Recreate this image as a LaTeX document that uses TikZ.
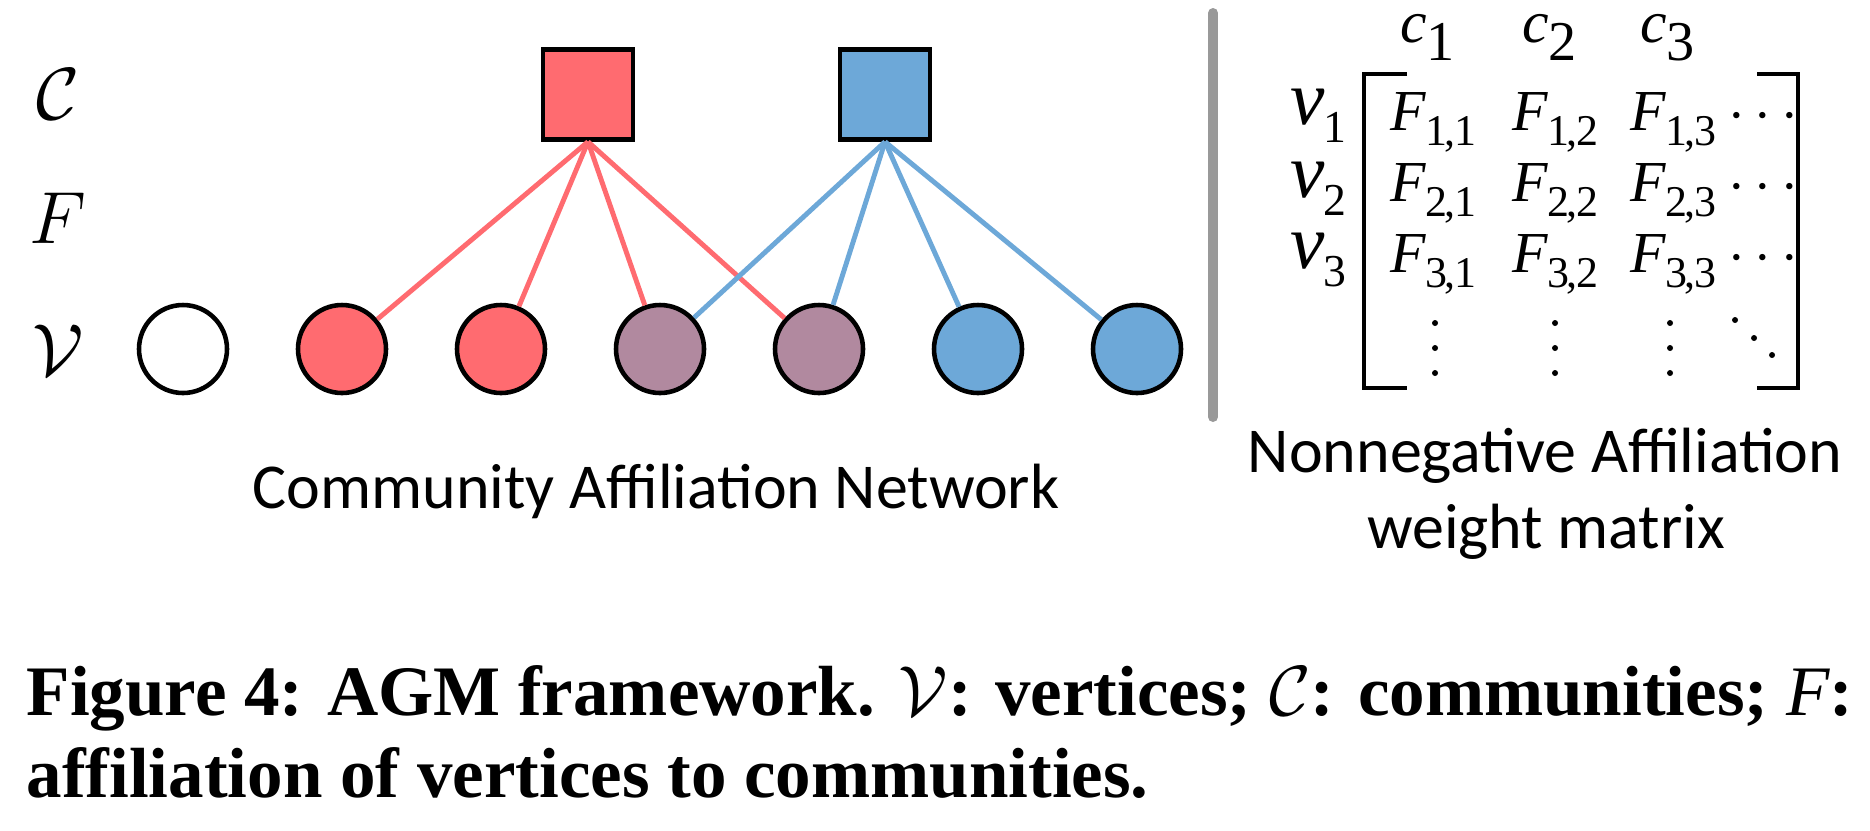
\RequirePackage{fix-cm}
\documentclass[tikz,border=0pt]{standalone}
\usepackage{amsmath}
\usepackage{fontspec}
\usepackage{xcolor}
\newfontfamily\capfont{Carlito}
\newfontfamily\tms{Liberation Serif}
\definecolor{comred}{HTML}{FF6B70}
\definecolor{comblue}{HTML}{6DA8D8}
\definecolor{bothpurple}{HTML}{B1899F}
\definecolor{sepgray}{HTML}{999999}
\newcommand{\fent}[2]{{\tms\itshape\fontsize{16.5}{16.5}\selectfont F}\kern-0.3pt\raisebox{-4.3pt}{\tms\fontsize{12.5}{12.5}\selectfont #1\kern-0.8pt,\kern-0.3pt#2}}
\newcommand{\clab}[1]{{\tms\itshape\fontsize{17}{17}\selectfont c}\kern-0.3pt\raisebox{-5.4pt}{\tms\fontsize{16}{16}\selectfont #1}}
\newcommand{\vlab}[1]{{\tms\itshape\fontsize{22}{22}\selectfont v}\kern-0.5pt\raisebox{-5.4pt}{\tms\fontsize{13}{13}\selectfont #1}}

\begin{document}
\begin{tikzpicture}[x=0.1mm,y=-0.1mm,
    vert/.style={circle,draw,line width=1.3pt,minimum size=8.8mm,inner sep=0pt},
    comm/.style={rectangle,draw,line width=1.3pt,minimum size=9mm,inner sep=0pt},
    redlink/.style={draw=comred,line width=1.4pt},
    bluelink/.style={draw=comblue,line width=1.4pt},
    sans/.style={font=\capfont\fontsize{18.2}{18.2}\selectfont}]
   \useasboundingbox (0,0) rectangle (1870,830);
   %% row labels
   \begin{scope}
     \tikzstyle{every node}=[font=\fontsize{21}{21}\selectfont]
     \node(labC) at (58,94) {$\mathcal{C}$};
     \node(labF) at (58,218) {$F$};
     \node(labV) at (58,350) {$\mathcal{V}$};
   \end{scope}
   %% affiliation network
   \node[comm,fill=comred](cred) at (588,94.5) {};
   \node[comm,fill=comblue](cblue) at (885,94.5) {};
   \node[vert,fill=white](v1) at (183,349) {};
   \node[vert,fill=comred](v2) at (342,349) {};
   \node[vert,fill=comred](v3) at (501,349) {};
   \node[vert,fill=bothpurple](v4) at (660,349) {};
   \node[vert,fill=bothpurple](v5) at (819,349) {};
   \node[vert,fill=comblue](v6) at (978,349) {};
   \node[vert,fill=comblue](v7) at (1137,349) {};
   \path (cred.south) edge[redlink] (v2);
   \path (cred.south) edge[redlink] (v3);
   \path (cred.south) edge[redlink] (v4);
   \path (cred.south) edge[redlink] (v5);
   \path (cblue.south) edge[bluelink] (v4);
   \path (cblue.south) edge[bluelink] (v5);
   \path (cblue.south) edge[bluelink] (v6);
   \path (cblue.south) edge[bluelink] (v7);
   \node[sans,anchor=base](netlab) at (656,508) {Community Affiliation Network};
   %% separator
   \draw[sepgray,line width=1mm,line cap=round] (1213,13) -- (1213,417);
   %% weight matrix
   \begin{scope}
     \tikzstyle{every node}=[anchor=base west,inner sep=0pt]
     \node(c1) at (1400,42) {\clab{1}};
     \node(c2) at (1522,42) {\clab{2}};
     \node(c3) at (1640,42) {\clab{3}};
     \node(rv1) at (1290,124) {\vlab{1}};
     \node(rv2) at (1290,197) {\vlab{2}};
     \node(rv3) at (1290,268) {\vlab{3}};
     \foreach \r/\y in {1/130,2/201,3/272} {
       \foreach \c/\x in {1/1390,2/1512,3/1630}
         \node(f\r\c) at (\x,\y) {\fent{\r}{\c}};
       \node[anchor=base,font=\fontsize{17}{17}\selectfont](hd\r) at (1768,\y) {$\cdots$};
     }
   \end{scope}
   \foreach \x in {1435,1555,1670}
     \foreach \y in {323,348,373}
       \fill (\x,\y) circle (3);
   \fill (1735,320) circle (3) (1754,338) circle (3) (1772,355) circle (3);
   \draw[line width=1.4pt] (1407,74) -- (1364,74) -- (1364,388) -- (1407,388);
   \draw[line width=1.4pt] (1757,74) -- (1798,74) -- (1798,388) -- (1757,388);
   \node[sans,anchor=base](mtxlab) at (1545,472) {Nonnegative Affiliation};
   \node[sans,anchor=base](mtxlabb) at (1546,548) {weight matrix};
   %% caption
   \begin{scope}
     \tikzstyle{every node}=[anchor=base west,inner sep=0pt,font=\tms\bfseries\fontsize{20.2}{20.2}\selectfont]
     \node(capa) at (26,715) {Figure 4: AGM framework. $\mathcal{V}$: vertices; $\mathcal{C}$: communities; {\mdseries\itshape F}:};
     \node(capb) at (26,797) {affiliation of vertices to communities.};
   \end{scope}
\end{tikzpicture}
\end{document}
